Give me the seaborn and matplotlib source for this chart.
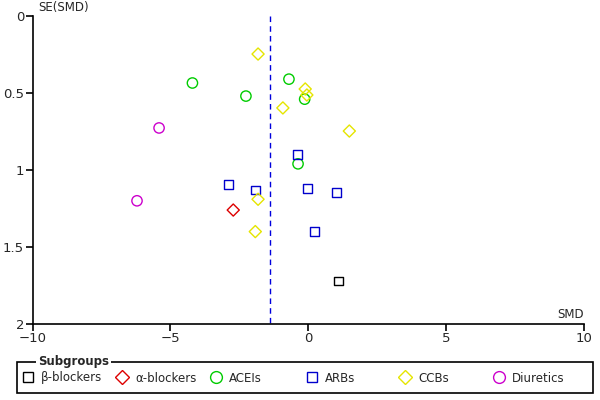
import pandas as pd
import matplotlib.pyplot as plt
import seaborn as sns
from matplotlib.lines import Line2D
from matplotlib.patches import Rectangle

# subgroup data
groups = ['β-blockers', 'α-blockers', 'ACEIs', 'ARBs', 'CCBs', 'Diuretics']
colors = ['#000000', '#dd0000', '#00cc00', '#0000cc', '#e5e500', '#cc00cc']
markers = ['s', 'D', 'o', 's', 'D', 'o']

smd = {
    'β-blockers': [1.10],
    'α-blockers': [-2.72],
    'ACEIs': [-4.20, -2.26, -0.70, -0.13, -0.37],
    'ARBs': [-2.89, -1.92, -0.40, -0.03, 1.03, 0.23],
    'CCBs': [-1.82, -0.92, -0.11, -0.05, 1.49, -1.82, -1.92],
    'Diuretics': [-5.41, -6.21],
}
se = {
    'β-blockers': [1.72],
    'α-blockers': [1.26],
    'ACEIs': [0.435, 0.52, 0.41, 0.54, 0.96],
    'ARBs': [1.093, 1.13, 0.90, 1.12, 1.145, 1.40],
    'CCBs': [0.247, 0.597, 0.474, 0.513, 0.747, 1.19, 1.40],
    'Diuretics': [0.727, 1.20],
}
pooled_smd = -1.38

sizes = {'s': 38, 'D': 38, 'o': 55}

sns.set_style('white')
plt.rcParams['font.family'] = ['DejaVu Sans']

fig = plt.figure(figsize=(6, 4), dpi=100)
ax = fig.add_axes([32.5 / 600, 76 / 400, 551.5 / 600, 308 / 400])

for g, c, m in zip(groups, colors, markers):
    df = pd.DataFrame({'SMD': smd[g], 'SE': se[g]})
    sns.scatterplot(data=df, x='SMD', y='SE', ax=ax, marker=m, s=sizes[m],
                    color=c, facecolor='none', edgecolor=c, linewidth=1,
                    legend=False, zorder=3)

ax.plot([pooled_smd, pooled_smd], [0, 2], color='#0000dd', linestyle=(0, (4, 3)),
        linewidth=1, zorder=2)

ax.set_xlim(-10, 10)
ax.set_ylim(2, 0)
ax.set_xticks([-10, -5, 0, 5, 10])
ax.set_yticks([0, 0.5, 1, 1.5, 2])
ax.set_yticklabels(['0', '0.5', '1', '1.5', '2'])
ax.set_xlabel('')
ax.set_ylabel('')
for s in ['top', 'right']:
    ax.spines[s].set_visible(False)
for s in ['left', 'bottom']:
    ax.spines[s].set_color('black')
    ax.spines[s].set_linewidth(1.2)
ax.tick_params(axis='both', direction='out', length=5, width=1.2, color='black',
               labelsize=9.5, pad=1, bottom=True, left=True)

fig.text(38 / 600, 1 - 8 / 400, 'SE(SMD)', fontsize=8.5, va='center', ha='left')
fig.text(584 / 600, 1 - 314 / 400, 'SMD', fontsize=8.5, va='center', ha='right')

# legend box with the title sitting on its top border
fig.patches.append(Rectangle((16.5 / 600, 1 - 393 / 400), 576 / 600, 31 / 400,
                             transform=fig.transFigure, facecolor='none',
                             edgecolor='black', linewidth=1.2))
fig.text(38 / 600, 1 - 361.5 / 400, 'Subgroups', fontsize=8.5, fontweight='bold',
         va='center', ha='left',
         bbox=dict(facecolor='white', edgecolor='none', pad=1.5))

# one legend entry per equal-width column
centers = [28, 122, 216, 312, 405, 499]
for g, c, m, xc in zip(groups, colors, markers, centers):
    h = Line2D([], [], linestyle='none', marker=m, markersize=7.5 if m != 'o' else 8.5,
               markerfacecolor='none', markeredgecolor=c, markeredgewidth=1)
    leg = fig.legend([h], [g], loc='center left',
                     bbox_to_anchor=((xc - 6) / 600, 1 - 378 / 400),
                     frameon=False, fontsize=8.5, borderaxespad=0, borderpad=0,
                     handletextpad=0.6, handlelength=1.0)

fig.savefig('out.png', dpi=100)
